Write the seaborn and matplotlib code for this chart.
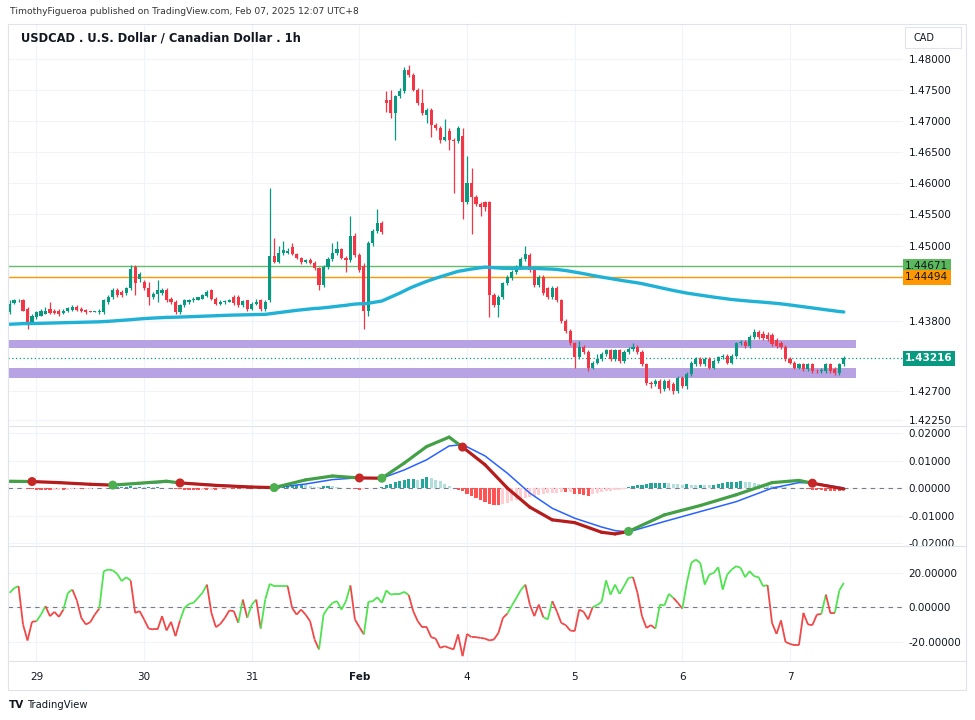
import numpy as np
import pandas as pd
import matplotlib
matplotlib.use('Agg')
import matplotlib.pyplot as plt
import seaborn as sns
from matplotlib.collections import LineCollection
from matplotlib.lines import Line2D
from matplotlib.patches import Rectangle
from matplotlib.transforms import Bbox, TransformedBbox
from matplotlib.ticker import FixedLocator, NullLocator, FuncFormatter

# ---------------- data (1h bars, bar 0 = Jan 29 00:00, UTC+8) ----------------
first_bar = -6

opens = [
    1.4394, 1.4409, 1.4413, 1.4413, 1.4400, 1.4378, 1.4386, 1.4389, 1.4392, 1.4400,
    1.4397, 1.4397, 1.4393, 1.4396, 1.4398, 1.4402, 1.4400, 1.4398, 1.4396, 1.4395,
    1.4394, 1.4394, 1.4410, 1.4418, 1.4429, 1.4426, 1.4424, 1.4432, 1.4466, 1.4447,
    1.4442, 1.4432, 1.4418, 1.4423, 1.4424, 1.4430, 1.4416, 1.4410, 1.4394, 1.4405,
    1.4411, 1.4413, 1.4414, 1.4416, 1.4420, 1.4429, 1.4416, 1.4408, 1.4410, 1.4411,
    1.4418, 1.4418, 1.4405, 1.4413, 1.4400, 1.4408, 1.4413, 1.4399, 1.4413, 1.4483,
    1.4474, 1.4488, 1.4489, 1.4498, 1.4487, 1.4480, 1.4474, 1.4477, 1.4473, 1.4464,
    1.4437, 1.4466, 1.4479, 1.4488, 1.4494, 1.4480, 1.4477, 1.4516, 1.4485, 1.4468,
    1.4397, 1.4504, 1.4524, 1.4536, 1.4734, 1.4734, 1.4713, 1.4740, 1.4748, 1.4782,
    1.4775, 1.4750, 1.4729, 1.4710, 1.4718, 1.4694, 1.4689, 1.4670, 1.4684, 1.4670,
    1.4667, 1.4676, 1.4570, 1.4600, 1.4578, 1.4567, 1.4570, 1.4569, 1.4421, 1.4405,
    1.4418, 1.4440, 1.4448, 1.4458, 1.4466, 1.4479, 1.4485, 1.4461, 1.4437, 1.4450,
    1.4432, 1.4418, 1.4433, 1.4413, 1.4381, 1.4365, 1.4345, 1.4323, 1.4339, 1.4331,
    1.4307, 1.4315, 1.4320, 1.4329, 1.4334, 1.4321, 1.4334, 1.4318, 1.4331, 1.4336,
    1.4339, 1.4331, 1.4312, 1.4283, 1.4281, 1.4286, 1.4273, 1.4286, 1.4281, 1.4270,
    1.4291, 1.4278, 1.4297, 1.4312, 1.4320, 1.4312, 1.4320, 1.4307, 1.4318, 1.4323,
    1.4326, 1.4315, 1.4326, 1.4345, 1.4347, 1.4341, 1.4355, 1.4363, 1.4360, 1.4358,
    1.4359, 1.4350, 1.4346, 1.4339, 1.4321, 1.4315, 1.4307, 1.4312, 1.4304, 1.4312,
    1.4302, 1.4302, 1.4301, 1.4312, 1.4305, 1.4299, 1.4312,
]
highs = [
    1.4413, 1.4415, 1.4416, 1.4415, 1.4402, 1.4392, 1.4397, 1.4399, 1.4402, 1.4410,
    1.4400, 1.4400, 1.4399, 1.4403, 1.4405, 1.4405, 1.4402, 1.4400, 1.4397, 1.4397,
    1.4399, 1.4415, 1.4421, 1.4432, 1.4432, 1.4429, 1.4434, 1.4469, 1.4469, 1.4458,
    1.4445, 1.4442, 1.4427, 1.4445, 1.4432, 1.4432, 1.4419, 1.4413, 1.4407, 1.4415,
    1.4416, 1.4418, 1.4419, 1.4423, 1.4429, 1.4431, 1.4418, 1.4413, 1.4414, 1.4415,
    1.4421, 1.4421, 1.4414, 1.4414, 1.4410, 1.4416, 1.4415, 1.4413, 1.4593, 1.4512,
    1.4500, 1.4507, 1.4496, 1.4504, 1.4489, 1.4482, 1.4479, 1.4480, 1.4476, 1.4466,
    1.4469, 1.4482, 1.4504, 1.4508, 1.4497, 1.4484, 1.4548, 1.4520, 1.4488, 1.4472,
    1.4507, 1.4527, 1.4558, 1.4540, 1.4748, 1.4750, 1.4742, 1.4754, 1.4788, 1.4791,
    1.4778, 1.4753, 1.4752, 1.4721, 1.4721, 1.4697, 1.4692, 1.4703, 1.4689, 1.4673,
    1.4692, 1.4689, 1.4643, 1.4624, 1.4581, 1.4570, 1.4572, 1.4572, 1.4424, 1.4421,
    1.4442, 1.4453, 1.4461, 1.4469, 1.4482, 1.4500, 1.4488, 1.4464, 1.4453, 1.4453,
    1.4434, 1.4436, 1.4436, 1.4415, 1.4384, 1.4368, 1.4348, 1.4349, 1.4342, 1.4334,
    1.4318, 1.4329, 1.4332, 1.4337, 1.4337, 1.4337, 1.4337, 1.4334, 1.4339, 1.4345,
    1.4342, 1.4334, 1.4315, 1.4286, 1.4289, 1.4289, 1.4289, 1.4289, 1.4284, 1.4294,
    1.4294, 1.4300, 1.4318, 1.4323, 1.4323, 1.4324, 1.4323, 1.4321, 1.4326, 1.4329,
    1.4329, 1.4329, 1.4348, 1.4350, 1.4350, 1.4358, 1.4368, 1.4366, 1.4365, 1.4363,
    1.4362, 1.4353, 1.4349, 1.4342, 1.4324, 1.4318, 1.4315, 1.4315, 1.4315, 1.4315,
    1.4305, 1.4306, 1.4315, 1.4315, 1.4308, 1.4315, 1.4325,
]
lows = [
    1.4392, 1.4407, 1.4411, 1.4396, 1.4368, 1.4376, 1.4384, 1.4388, 1.4391, 1.4391,
    1.4391, 1.4389, 1.4391, 1.4394, 1.4397, 1.4397, 1.4394, 1.4392, 1.4394, 1.4394,
    1.4392, 1.4392, 1.4408, 1.4416, 1.4419, 1.4419, 1.4421, 1.4429, 1.4421, 1.4442,
    1.4429, 1.4405, 1.4415, 1.4410, 1.4421, 1.4411, 1.4408, 1.4392, 1.4392, 1.4403,
    1.4408, 1.4411, 1.4413, 1.4415, 1.4418, 1.4414, 1.4405, 1.4405, 1.4408, 1.4410,
    1.4405, 1.4403, 1.4403, 1.4397, 1.4398, 1.4406, 1.4397, 1.4397, 1.4411, 1.4472,
    1.4472, 1.4485, 1.4486, 1.4485, 1.4478, 1.4471, 1.4472, 1.4471, 1.4462, 1.4429,
    1.4435, 1.4463, 1.4476, 1.4485, 1.4478, 1.4458, 1.4474, 1.4482, 1.4458, 1.4368,
    1.4389, 1.4500, 1.4520, 1.4519, 1.4715, 1.4705, 1.4670, 1.4737, 1.4745, 1.4771,
    1.4748, 1.4726, 1.4710, 1.4697, 1.4675, 1.4686, 1.4664, 1.4667, 1.4654, 1.4584,
    1.4664, 1.4543, 1.4567, 1.4519, 1.4564, 1.4548, 1.4556, 1.4386, 1.4402, 1.4386,
    1.4415, 1.4437, 1.4445, 1.4455, 1.4463, 1.4476, 1.4458, 1.4434, 1.4434, 1.4421,
    1.4415, 1.4415, 1.4410, 1.4378, 1.4362, 1.4342, 1.4307, 1.4320, 1.4328, 1.4302,
    1.4304, 1.4312, 1.4317, 1.4326, 1.4318, 1.4318, 1.4315, 1.4315, 1.4328, 1.4333,
    1.4328, 1.4309, 1.4280, 1.4275, 1.4278, 1.4267, 1.4270, 1.4272, 1.4265, 1.4267,
    1.4275, 1.4273, 1.4294, 1.4310, 1.4309, 1.4309, 1.4304, 1.4304, 1.4315, 1.4320,
    1.4312, 1.4312, 1.4323, 1.4342, 1.4338, 1.4338, 1.4352, 1.4352, 1.4351, 1.4349,
    1.4341, 1.4338, 1.4336, 1.4318, 1.4312, 1.4304, 1.4304, 1.4301, 1.4301, 1.4299,
    1.4298, 1.4299, 1.4299, 1.4299, 1.4296, 1.4296, 1.4309,
]
closes = [
    1.4408, 1.4413, 1.4414, 1.4397, 1.4378, 1.4389, 1.4394, 1.4396, 1.4397, 1.4393,
    1.4393, 1.4392, 1.4397, 1.4401, 1.4403, 1.4398, 1.4396, 1.4394, 1.4395, 1.4396,
    1.4397, 1.4413, 1.4418, 1.4429, 1.4421, 1.4421, 1.4432, 1.4463, 1.4440, 1.4455,
    1.4432, 1.4418, 1.4423, 1.4429, 1.4430, 1.4413, 1.4410, 1.4394, 1.4405, 1.4413,
    1.4414, 1.4416, 1.4418, 1.4421, 1.4426, 1.4416, 1.4408, 1.4411, 1.4412, 1.4413,
    1.4409, 1.4405, 1.4412, 1.4399, 1.4408, 1.4411, 1.4399, 1.4411, 1.4483, 1.4474,
    1.4488, 1.4493, 1.4492, 1.4487, 1.4480, 1.4474, 1.4477, 1.4473, 1.4464, 1.4437,
    1.4466, 1.4479, 1.4488, 1.4494, 1.4480, 1.4477, 1.4516, 1.4485, 1.4461, 1.4397,
    1.4504, 1.4524, 1.4536, 1.4522, 1.4729, 1.4713, 1.4740, 1.4748, 1.4783, 1.4775,
    1.4750, 1.4729, 1.4713, 1.4718, 1.4694, 1.4689, 1.4670, 1.4675, 1.4670, 1.4667,
    1.4689, 1.4570, 1.4600, 1.4578, 1.4567, 1.4562, 1.4561, 1.4421, 1.4405, 1.4418,
    1.4440, 1.4450, 1.4458, 1.4466, 1.4479, 1.4487, 1.4461, 1.4437, 1.4450, 1.4424,
    1.4418, 1.4433, 1.4413, 1.4381, 1.4365, 1.4345, 1.4323, 1.4339, 1.4331, 1.4307,
    1.4315, 1.4320, 1.4329, 1.4334, 1.4321, 1.4334, 1.4318, 1.4331, 1.4336, 1.4339,
    1.4331, 1.4312, 1.4283, 1.4281, 1.4286, 1.4273, 1.4286, 1.4275, 1.4270, 1.4291,
    1.4278, 1.4297, 1.4315, 1.4320, 1.4312, 1.4320, 1.4307, 1.4318, 1.4323, 1.4326,
    1.4315, 1.4326, 1.4345, 1.4347, 1.4341, 1.4355, 1.4363, 1.4355, 1.4354, 1.4352,
    1.4344, 1.4341, 1.4339, 1.4321, 1.4315, 1.4307, 1.4312, 1.4304, 1.4312, 1.4302,
    1.4301, 1.4303, 1.4312, 1.4302, 1.4299, 1.4312, 1.43216,
]

ema_len = 200
ema_start = 1.4375

level_green = 1.44671
level_orange = 1.44494
zone_top = (1.4338, 1.4351)
zone_bottom = (1.4291, 1.4306)
zone_end_bar = 182.7

day_ticks = [0, 24, 48, 72, 96, 120, 144, 168]
day_labels = ['29', '30', '31', 'Feb', '4', '5', '6', '7']
price_ticks = [1.48, 1.475, 1.47, 1.465, 1.46, 1.455, 1.45, 1.438, 1.427, 1.4225]

# MACD-style pane: lines read at knots
macd_bars = [-6, -1, 5, 12, 17, 29, 32, 40, 48, 53, 60, 66, 72, 77, 82, 87, 92,
             95, 100, 105, 110, 115, 120, 126, 129, 132, 140, 148, 156, 164, 170, 173, 180]
macd_line = [0.0025, 0.0024, 0.0020, 0.0014, 0.0011, 0.0025, 0.0019, 0.0010, 0.0004,
             0.0002, 0.0030, 0.0044, 0.0037, 0.0036, 0.0091, 0.0151, 0.0185, 0.0149,
             0.0085, 0.0000, -0.0069, -0.0115, -0.0125, -0.0160, -0.0166, -0.0157,
             -0.0097, -0.0063, -0.0024, 0.0020, 0.0028, 0.0018, -0.0003]
signal_line = [0.0023, 0.0024, 0.0021, 0.0015, 0.0011, 0.0022, 0.0020, 0.0012, 0.0005,
               0.0002, 0.0015, 0.0031, 0.0038, 0.0036, 0.0066, 0.0103, 0.0153, 0.0158,
               0.0117, 0.0054, -0.0018, -0.0073, -0.0109, -0.0141, -0.0154, -0.0159,
               -0.0121, -0.0085, -0.0049, 0.0000, 0.0020, 0.0019, 0.0001]
cross_bars = [-1, 17, 32, 53, 72, 77, 95, 132, 173]
cross_kind = ['down', 'up', 'down', 'up', 'down', 'up', 'down', 'up', 'down']

# histogram, in thousandths
hist_milli = [
    -0.1, -0.1, 0.0, -0.1, -0.2, -0.3, -0.5, -0.6, -0.7, -0.7,
    -0.6, -0.5, -0.6, -0.5, -0.4, -0.3, -0.4, -0.3, -0.2, -0.1,
    -0.1, -0.1, 0.0, 0.2, 0.3, 0.3, 0.4, 0.6, 0.5, 0.5,
    0.4, 0.4, 0.3, 0.3, 0.2, 0.2, 0.1, -0.2, -0.4, -0.5,
    -0.6, -0.7, -0.7, -0.6, -0.6, -0.5, -0.5, -0.4, -0.4, -0.3,
    -0.3, -0.3, -0.2, -0.2, -0.2, -0.1, -0.1, -0.1, -0.1, 0.3,
    0.6, 0.7, 0.8, 1.0, 1.2, 1.3, 1.1, 0.7, 0.5, 0.4,
    0.8, 0.9, 0.6, 0.3, 0.1, 0.0, -0.1, -0.2, -0.5, -0.3,
    -0.1, 0.0, 0.1, 0.5, 1.0, 1.6, 2.2, 2.5, 3.0, 3.4,
    3.5, 3.0, 3.4, 4.0, 3.6, 3.0, 2.7, 1.6, 0.6, 0.2,
    -0.5, -1.2, -2.0, -2.9, -3.6, -4.2, -5.0, -5.6, -6.0, -6.1,
    -5.7, -5.3, -4.8, -4.4, -3.9, -3.5, -3.1, -2.8, -2.5, -2.2,
    -1.9, -1.7, -1.6, -1.5, -1.5, -1.4, -2.0, -2.3, -2.6, -2.7,
    -2.2, -1.8, -1.5, -1.2, -1.0, -0.7, -0.5, -0.2, 0.4, 0.8,
    1.1, 1.3, 1.5, 1.7, 1.8, 1.9, 2.0, 1.8, 1.6, 1.5,
    1.3, 1.4, 1.2, 1.1, 1.3, 1.1, 1.0, 1.2, 1.6, 1.9,
    2.1, 2.3, 2.4, 2.6, 2.4, 2.1, 1.9, 1.6, 1.3, 1.0,
    0.8, 0.6, 0.4, 0.3, 0.2, 0.2, 0.1, 0.0, -0.3, -0.5,
    -0.6, -0.8, -0.9, -0.9, -1.0, -1.0, -0.9,
]

# bottom oscillator
osc = [
    8.3, 11.0, 12.2, -10.0, -19.3, -8.5, -8.1, -4.3, 0.6, -5.2,
    -2.7, -5.6, -1.4, 8.3, 10.2, 3.9, -6.2, -10.0, -8.7, -4.3,
    -0.8, 20.9, 21.8, 21.4, 19.3, 15.1, 17.4, 15.5, -3.3, -2.3,
    -7.1, -12.4, -12.9, -12.9, -5.2, -13.5, -8.5, -16.8, -7.7, -0.4,
    1.9, 2.5, 5.4, 8.3, 13.1, -3.3, -11.6, -9.7, -6.2, -1.9,
    -2.3, -9.1, 4.4, -6.2, 1.5, 4.4, -12.4, 4.4, 13.5, 12.2,
    12.2, 12.2, 12.2, -0.4, -4.3, -1.4, -4.3, -8.1, -18.7, -24.5,
    -4.3, -0.4, 2.5, 3.5, -1.4, 3.5, 12.6, -7.1, -11.6, -15.8,
    3.1, 3.5, 5.8, 2.5, 9.7, 7.3, 7.7, 7.7, 8.9, 7.0,
    -2.3, -8.1, -11.6, -11.6, -17.4, -18.2, -23.6, -22.6, -23.6, -24.5,
    -15.8, -28.4, -15.5, -17.4, -17.4, -17.8, -18.2, -19.3, -18.7, -14.9,
    -6.2, -3.7, 1.0, 5.4, 10.0, 13.1, 1.5, -5.2, 1.5, -5.8,
    -7.1, 3.5, -2.3, -9.1, -10.4, -13.5, -13.9, -1.4, -2.7, -7.1,
    0.0, 1.2, 3.1, 15.5, 7.3, 13.1, 7.7, 12.2, 17.0, 17.4,
    8.3, -5.2, -12.0, -10.4, -12.4, 1.5, 1.0, 7.7, 5.4, 2.5,
    -0.8, 14.1, 25.7, 27.6, 25.7, 13.1, 18.9, 19.9, 23.2, 10.2,
    18.9, 21.8, 23.8, 22.8, 17.4, 20.9, 18.0, 17.4, 12.2, 12.8,
    -9.1, -15.5, -7.7, -20.1, -21.3, -22.0, -22.0, -3.3, -10.0, -10.4,
    -4.3, -3.9, 7.3, -3.3, -3.3, 9.7, 14.1,
]
osc_trend = ''.join([
    'gggrrrrggr', 'rrrggrrrrr', 'rgggggggrr', 'rrrrrrrrrg', 'gggggrrrrr',
    'rrgrggrggg', 'gggrrrrrrr', 'gggggggrrr', 'gggggggggg', 'rrrrrrrrrr',
    'rrrrrrrrrr', 'rrggggrrrr', 'ggrrrrrrrr', 'rggggggggg', 'rrrrrggggr',
    'rggggggggg', 'gggggggggg', 'rrrrrrrrrr', 'rrgrrgg',
])

# ---------------- styling ----------------
sns.set_theme(style='white')
plt.rcParams['font.family'] = ['DejaVu Sans']

up_c, dn_c = '#089981', '#f23645'
grid_c = '#f0f3fa'
txt_c = '#131722'
frame_c = '#e0e3eb'

fig = plt.figure(figsize=(9.75, 7.2), dpi=100)
fig.patch.set_facecolor('white')

L, R = 8, 903
def box(top, bottom):
    return [L / 975, 1 - bottom / 720, (R - L) / 975, (bottom - top) / 720]

ax1 = fig.add_axes(box(25, 425))
ax2 = fig.add_axes(box(427, 545), sharex=ax1)
ax3 = fig.add_axes(box(547, 661), sharex=ax1)

for ax in (ax1, ax2, ax3):
    for s in ax.spines.values():
        s.set_visible(False)
    ax.set_facecolor('white')
    ax.yaxis.tick_right()
    ax.tick_params(axis='y', length=0, pad=4, labelsize=7.5, labelcolor=txt_c)
    ax.tick_params(axis='x', length=0)
    ax.grid(True, color=grid_c, lw=0.8)
    ax.set_axisbelow(True)

# ---------------- price pane ----------------
o, h, l, c = map(np.array, (opens, highs, lows, closes))
xb = np.arange(len(c)) + first_bar
is_up = c >= o
cols = np.where(is_up, up_c, dn_c)

ema = []
e = ema_start
for v in c:
    e = e + (v - e) * 2 / (ema_len + 1)
    ema.append(e)
price_df = pd.DataFrame({'bar': xb, 'ema': ema})

ax1.set_yscale('log')
ax1.fill_between([first_bar - 2, zone_end_bar], zone_top[0], zone_top[1], color='#b7a2e3', lw=0, zorder=1)
ax1.fill_between([first_bar - 2, zone_end_bar], zone_bottom[0], zone_bottom[1], color='#b7a2e3', lw=0, zorder=1)
ax1.axhline(level_green, color='#66bb6a', lw=1, zorder=2)
ax1.axhline(level_orange, color='#ff9800', lw=1, zorder=2)
ax1.axhline(c[-1], color=up_c, lw=0.9, ls=(0, (1, 2)), zorder=2)

ax1.vlines(xb, l, h, colors=cols, lw=0.9, zorder=3)
body_lo = np.minimum(o, c)
body_h = np.maximum(np.abs(c - o), 0.00004)
ax1.bar(xb, body_h, bottom=body_lo, width=0.7, color=cols, lw=0, zorder=4)

sns.lineplot(data=price_df, x='bar', y='ema', ax=ax1, color='#20b2d6', lw=2.4, zorder=5, legend=False)

ax1.set_xlim(-6.35, 193.2)
ax1.set_ylim(1.4217, 1.4856)
ax1.yaxis.set_major_locator(FixedLocator(price_ticks))
ax1.yaxis.set_minor_locator(NullLocator())
ax1.yaxis.set_major_formatter(FuncFormatter(lambda v, p: f'{v:.5f}'))
ax1.yaxis.set_minor_formatter(FuncFormatter(lambda v, p: ''))
ax1.set_xlabel('')
ax1.set_ylabel('')
ax1.tick_params(axis='x', labelbottom=False)

ytr = ax1.get_yaxis_transform()
ax1.text(1.0025, level_green, f'{level_green:.5f}', transform=ytr, ha='left', va='center',
         fontsize=7.5, color=txt_c, bbox=dict(boxstyle='square,pad=0.22', fc='#5cb85c', ec='none'))
ax1.text(1.0025, level_orange, f'{level_orange:.5f}', transform=ytr, ha='left', va='center',
         fontsize=7.5, color=txt_c, bbox=dict(boxstyle='square,pad=0.22', fc='#ff9800', ec='none'))
ax1.text(1.0025, c[-1], f'{c[-1]:.5f}', transform=ytr, ha='left', va='center', fontweight='bold',
         fontsize=7.5, color='white', bbox=dict(boxstyle='square,pad=0.22', fc=up_c, ec='none'))

# ---------------- MACD pane ----------------
hist = np.array(hist_milli) * 1e-3
xh = np.arange(len(hist)) + first_bar
hcols = []
for k, v in enumerate(hist):
    prev = hist[k - 1] if k > 0 else v
    if v >= 0:
        hcols.append('#26a69a' if v >= prev else '#b2dfdb')
    else:
        hcols.append('#ff5252' if v <= prev else '#ffcdd2')
ax2.bar(xh, hist, width=0.7, color=hcols, lw=0, zorder=2)
ax2.axhline(0, color='#787b86', lw=0.8, ls=(0, (4, 4)), zorder=1)

mb = np.array(macd_bars, dtype=float)
mv = np.array(macd_line)
sns.lineplot(x=mb, y=np.array(signal_line), ax=ax2, color='#2962ff', lw=1.1, zorder=3, legend=False)

seg_cols = []
for k in range(len(mb) - 1):
    past = [kind for b, kind in zip(cross_bars, cross_kind) if b <= mb[k]]
    kind = past[-1] if past else ('up' if cross_kind[0] == 'down' else 'down')
    seg_cols.append('#43a047' if kind == 'up' else '#b71c1c')
segs = [[(mb[k], mv[k]), (mb[k + 1], mv[k + 1])] for k in range(len(mb) - 1)]
ax2.add_collection(LineCollection(segs, colors=seg_cols, lw=2.3, zorder=4, capstyle='round'))

knot = dict(zip(macd_bars, macd_line))
ax2.scatter(cross_bars, [knot[b] for b in cross_bars], s=42, zorder=5, lw=0,
            c=['#4caf50' if k == 'up' else '#c62828' for k in cross_kind])

ax2.set_ylim(-0.02062, 0.02218)
ax2.yaxis.set_major_locator(FixedLocator([0.02, 0.01, 0.0, -0.01, -0.02]))
ax2.yaxis.set_major_formatter(FuncFormatter(lambda v, p: f'{v:.5f}'))
ax2.tick_params(axis='x', labelbottom=False)
ax2.set_xlabel('')
ax2.set_ylabel('')

# ---------------- oscillator pane ----------------
ov = np.array(osc)
xo = np.arange(len(ov)) + first_bar
osegs = [[(xo[k - 1], ov[k - 1]), (xo[k], ov[k])] for k in range(1, len(ov))]
ocols = ['#4fe34f' if osc_trend[k] == 'g' else '#f04848' for k in range(1, len(ov))]
ax3.add_collection(LineCollection(osegs, colors=ocols, lw=1.3, zorder=3))
ax3.axhline(0, color='#787b86', lw=0.8, ls=(0, (4, 4)), zorder=1)
ax3.set_ylim(-31.2, 34.9)
ax3.yaxis.set_major_locator(FixedLocator([20, 0, -20]))
ax3.yaxis.set_major_formatter(FuncFormatter(lambda v, p: f'{v:.5f}'))

ax3.set_xticks(day_ticks)
ax3.set_xticklabels(day_labels)
ax3.tick_params(axis='x', labelsize=7.5, labelcolor=txt_c, pad=8)
ax3.get_xticklabels()[3].set_fontweight('bold')
ax3.set_xlim(-6.35, 193.2)

# price-scale labels are cut at the pane borders, as on the platform
fig.canvas.draw()
for ax, (top, bottom) in ((ax1, (25, 426)), (ax2, (427, 546))):
    clip = TransformedBbox(Bbox([[R / 975, 1 - bottom / 720], [1.0, 1 - top / 720]]), fig.transFigure)
    for lab in ax.get_yticklabels():
        lab.set_clip_box(clip)
        lab.set_clip_on(True)

# ---------------- frame & texts ----------------
def hline(y, x0=8, x1=966, color=frame_c, lw=0.8):
    fig.add_artist(Line2D([x0 / 975, x1 / 975], [1 - y / 720, 1 - y / 720], color=color, lw=lw,
                          transform=fig.transFigure))

def vline(x, y0=24, y1=690, color=frame_c, lw=0.8):
    fig.add_artist(Line2D([x / 975, x / 975], [1 - y0 / 720, 1 - y1 / 720], color=color, lw=lw,
                          transform=fig.transFigure))

hline(24)
hline(426)
hline(546)
hline(661)
hline(690)
vline(8)
vline(966)

fig.add_artist(Rectangle((905 / 975, 1 - 48 / 720), 56 / 975, 21 / 720, transform=fig.transFigure,
                         fc='white', ec=frame_c, lw=0.8))
fig.text(913 / 975, 1 - 38 / 720, 'CAD', fontsize=7, color=txt_c, va='center', ha='left')

fig.text(10 / 975, 1 - 12 / 720, 'TimothyFigueroa published on TradingView.com, Feb 07, 2025 12:07 UTC+8',
         fontsize=6.6, color='#333333', va='center', ha='left')
fig.text(21 / 975, 1 - 38 / 720, 'USDCAD . U.S. Dollar / Canadian Dollar . 1h',
         fontsize=8.3, fontweight='bold', color=txt_c, va='center', ha='left')
fig.text(9 / 975, 1 - 705 / 720, 'TV', fontsize=7.5, fontweight='heavy', color=txt_c, va='center', ha='left')
fig.text(27 / 975, 1 - 705 / 720, 'TradingView', fontsize=7.2, color=txt_c, va='center', ha='left')

fig.savefig('out.png', dpi=100, facecolor='white')
